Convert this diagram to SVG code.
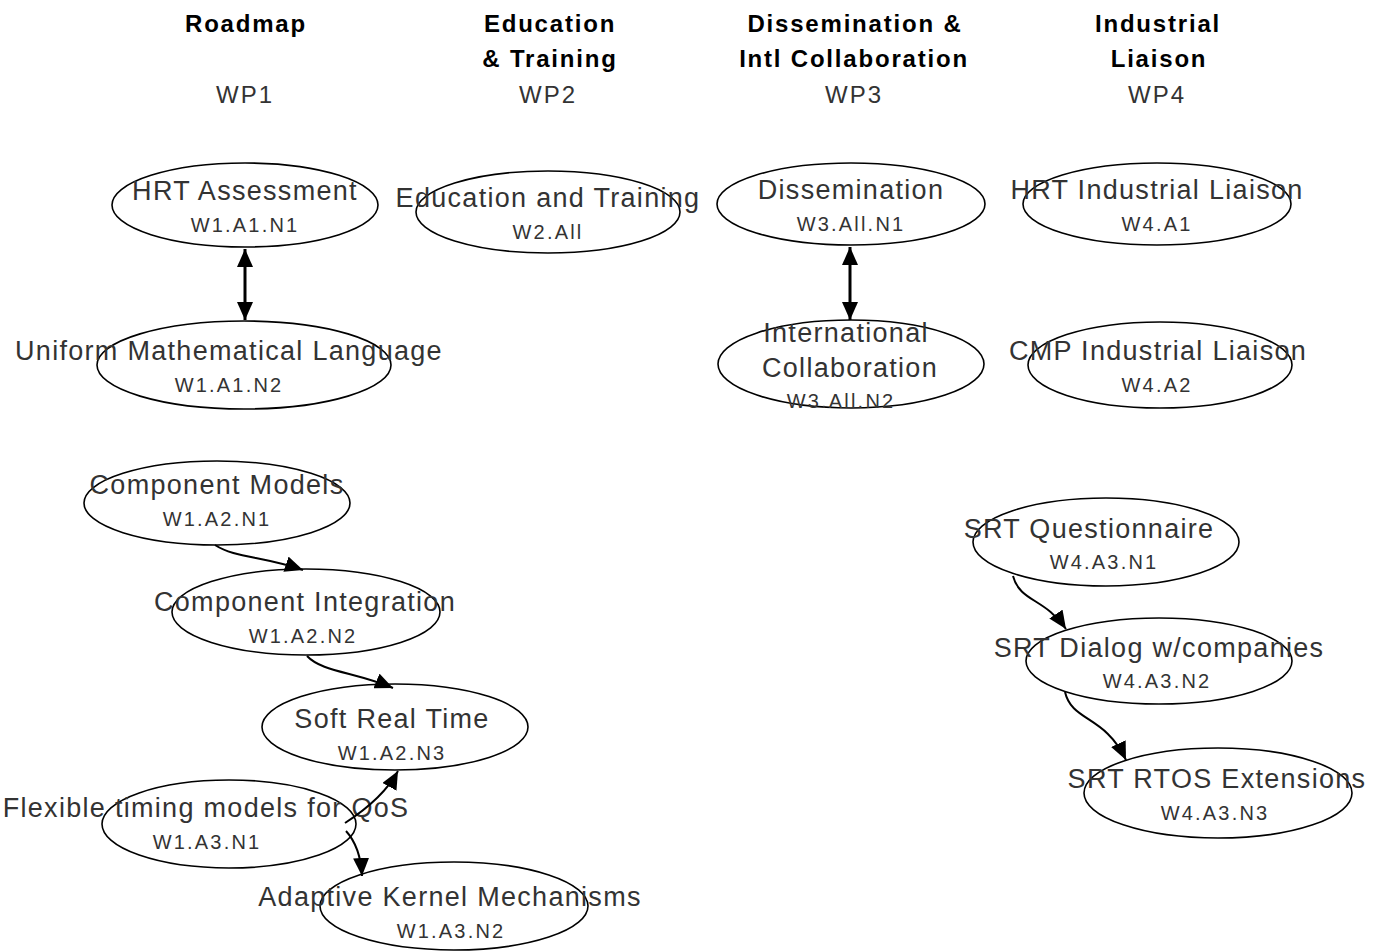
<svg xmlns="http://www.w3.org/2000/svg" width="1383" height="951" viewBox="0 0 1383 951">
<style>
.hd{font-family:"Liberation Sans",Arial,sans-serif;font-weight:bold;font-size:24px;letter-spacing:1.8px;fill:#000;text-anchor:middle}
.wp{font-family:"Liberation Sans",Arial,sans-serif;font-size:24px;letter-spacing:2px;fill:#333;text-anchor:middle}
.t{font-family:"Liberation Sans",Arial,sans-serif;font-size:27px;letter-spacing:1.3px;fill:#333;text-anchor:middle}
.s{font-family:"Liberation Sans",Arial,sans-serif;font-size:20px;letter-spacing:2.2px;fill:#333;text-anchor:middle}
ellipse{fill:#fff;stroke:#000;stroke-width:1.6}
.c{fill:none;stroke:#000;stroke-width:2}
.cb{fill:none;stroke:#000;stroke-width:3}
</style>
<defs>
<marker id="ah" viewBox="0 0 18 16" refX="18" refY="8" markerWidth="18" markerHeight="16" markerUnits="userSpaceOnUse" orient="auto-start-reverse"><path d="M0,0 L18,8 L0,16 z" fill="#000"/></marker>
</defs>
<g id="headers">
<text class="hd" x="246" y="32">Roadmap</text>
<text class="wp" x="245" y="103">WP1</text>
<text class="hd" x="550" y="32">Education</text>
<text class="hd" x="550" y="67">&amp; Training</text>
<text class="wp" x="548" y="103">WP2</text>
<text class="hd" x="855" y="32">Dissemination &amp;</text>
<text class="hd" x="854" y="67">Intl Collaboration</text>
<text class="wp" x="854" y="103">WP3</text>
<text class="hd" x="1158" y="32">Industrial</text>
<text class="hd" x="1159" y="67">Liaison</text>
<text class="wp" x="1157" y="103">WP4</text>
</g>
<g id="n1"><ellipse cx="245" cy="205" rx="133" ry="42"/><text class="t" x="245" y="200">HRT Assessment</text><text class="s" x="245" y="232">W1.A1.N1</text></g>
<g id="n2"><ellipse cx="548" cy="212" rx="132" ry="41"/><text class="t" x="548" y="207">Education and Training</text><text class="s" x="548" y="239">W2.All</text></g>
<g id="n3"><ellipse cx="851" cy="204" rx="134" ry="41"/><text class="t" x="851" y="199">Dissemination</text><text class="s" x="851" y="231">W3.All.N1</text></g>
<g id="n4"><ellipse cx="1157" cy="204" rx="134" ry="41"/><text class="t" x="1157" y="199">HRT Industrial Liaison</text><text class="s" x="1157" y="231">W4.A1</text></g>
<g id="n5"><ellipse cx="244" cy="365" rx="147" ry="44"/><text class="t" x="229" y="360">Uniform Mathematical Language</text><text class="s" x="229" y="392">W1.A1.N2</text></g>
<g id="n6"><ellipse cx="851" cy="364" rx="133" ry="44"/><text class="t" x="846" y="342">International</text><text class="t" x="850" y="377">Collaboration</text><text class="s" x="841" y="408">W3.All.N2</text></g>
<g id="n7"><ellipse cx="1160" cy="365" rx="132" ry="43"/><text class="t" x="1158" y="360">CMP Industrial Liaison</text><text class="s" x="1157" y="392">W4.A2</text></g>
<g id="n8"><ellipse cx="217" cy="503" rx="133" ry="42"/><text class="t" x="217" y="494">Component Models</text><text class="s" x="217" y="526">W1.A2.N1</text></g>
<g id="n9"><ellipse cx="306" cy="612" rx="134" ry="43"/><text class="t" x="305" y="611">Component Integration</text><text class="s" x="303" y="643">W1.A2.N2</text></g>
<g id="n10"><ellipse cx="395" cy="727" rx="133" ry="43"/><text class="t" x="392" y="728">Soft Real Time</text><text class="s" x="392" y="760">W1.A2.N3</text></g>
<g id="n11"><ellipse cx="229" cy="824" rx="127" ry="44"/><text class="t" x="206" y="817">Flexible timing models for QoS</text><text class="s" x="207" y="849">W1.A3.N1</text></g>
<g id="n12"><ellipse cx="454" cy="906" rx="134" ry="44"/><text class="t" x="450" y="906">Adaptive Kernel Mechanisms</text><text class="s" x="451" y="938">W1.A3.N2</text></g>
<g id="n13"><ellipse cx="1106" cy="542" rx="133" ry="44"/><text class="t" x="1089" y="538">SRT Questionnaire</text><text class="s" x="1104" y="569">W4.A3.N1</text></g>
<g id="n14"><ellipse cx="1159" cy="661" rx="133" ry="43"/><text class="t" x="1159" y="657">SRT Dialog w/companies</text><text class="s" x="1157" y="688">W4.A3.N2</text></g>
<g id="n15"><ellipse cx="1218" cy="793" rx="134" ry="45"/><text class="t" x="1217" y="788">SRT RTOS Extensions</text><text class="s" x="1215" y="820">W4.A3.N3</text></g>
<g id="connectors">
<path class="cb" d="M245,249 L245,320" marker-start="url(#ah)" marker-end="url(#ah)"/>
<path class="cb" d="M850,247 L850,320" marker-start="url(#ah)" marker-end="url(#ah)"/>
<path class="c" d="M215,545 C235,558 262,556 303,570" marker-end="url(#ah)"/>
<path class="c" d="M307,656 C322,672 355,672 393,688" marker-end="url(#ah)"/>
<path class="c" d="M345,823 C362,812 385,795 398,771" marker-end="url(#ah)"/>
<path class="c" d="M346,831 C356,842 361,856 362,876" marker-end="url(#ah)"/>
<path class="c" d="M1013,576 C1020,602 1045,598 1066,629" marker-end="url(#ah)"/>
<path class="c" d="M1065,692 C1072,722 1105,715 1126,760" marker-end="url(#ah)"/>
</g>
</svg>
